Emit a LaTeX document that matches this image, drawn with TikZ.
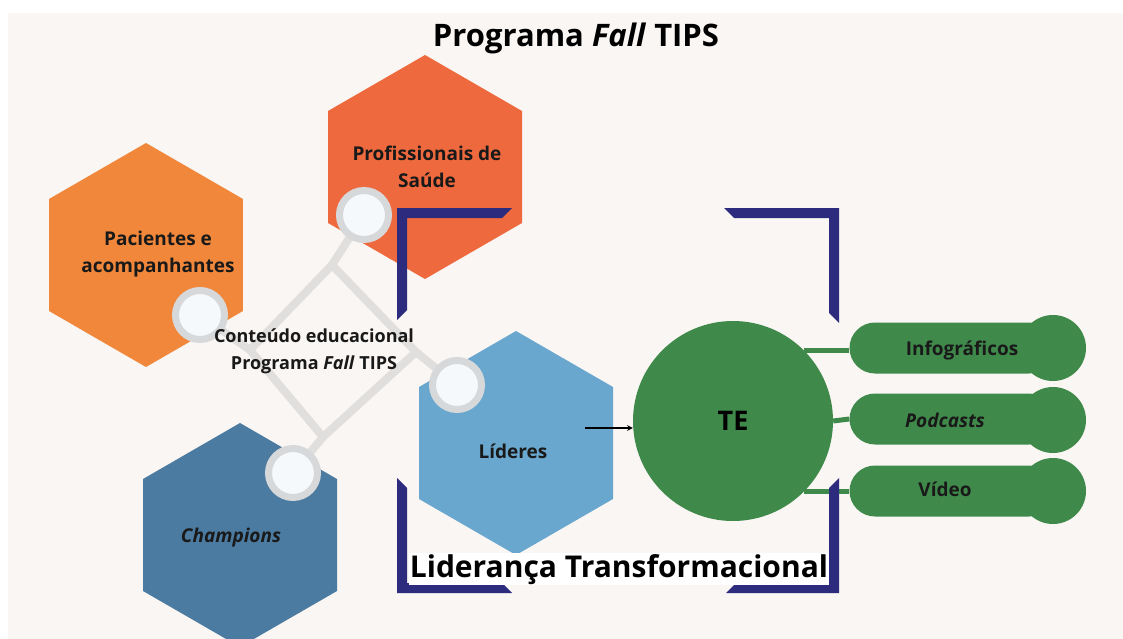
\documentclass[tikz,border=0pt]{standalone}
\usepackage{fontspec}
\setmainfont{Open Sans}
\usepackage{tikz}
\usetikzlibrary{shapes,arrows,positioning,calc}

\definecolor{bgcream}{HTML}{FAF6F3}
\definecolor{profred}{HTML}{EE6A3E}
\definecolor{pacorange}{HTML}{F0873B}
\definecolor{champblue}{HTML}{4C7BA1}
\definecolor{lidblue}{HTML}{6AA7CE}
\definecolor{tegreen}{HTML}{3F8A4B}
\definecolor{framenavy}{HTML}{2C2B7D}
\definecolor{linkgray}{HTML}{E0DFDD}
\definecolor{ringgray}{HTML}{D6D8DA}
\definecolor{ringfill}{HTML}{F6F9FC}

\begin{document}
\begin{tikzpicture}[x=1pt, y=-1pt,
    hexa/.style={regular polygon, regular polygon sides=6, shape border rotate=30, minimum size=224pt, inner sep=0pt},
    ring/.style={circle, draw=ringgray, line width=7pt, fill=ringfill, minimum size=49pt, inner sep=0pt},
    spoke/.style={draw=linkgray, line width=8pt, line join=round},
    lbl/.style={font=\fontsize{19}{27}\selectfont\bfseries, align=center, text=black!90},
    frame/.style={fill=framenavy},
    pill/.style={rectangle, rounded corners=25.5pt, fill=tegreen, minimum width=205pt, minimum height=51pt},
    bulb/.style={circle, fill=tegreen, minimum size=66pt, inner sep=0pt},
    twig/.style={draw=tegreen, line width=5pt},
    arrow/.style={->, >=stealth, line width=1.5pt}
]

\useasboundingbox (0,0) rectangle (1123,639);
\fill[white] (0,0) rectangle (1123,639);
\fill[bgcream] (8,13) rectangle (1123,639);

\node[hexa, fill=pacorange] (pac) at (146,255) {};
\node[hexa, fill=profred] (prof) at (425,167) {};
\node[hexa, fill=champblue] (champ) at (240,535) {};
\node[hexa, fill=lidblue] (lid) at (516,443) {};

\coordinate (dt) at (332,265);
\coordinate (dr) at (416,352);
\coordinate (db) at (323,437);
\coordinate (dl) at (250,350);
\coordinate (pachub) at (200,315);
\coordinate (profhub) at (364,215);
\coordinate (champhub) at (293,473);
\coordinate (lidhub) at (457,385);

\draw[spoke] (dt) -- (dr) -- (db) -- (dl) -- cycle;
\draw[spoke] (dt) -- (profhub);
\draw[spoke] (dr) -- (lidhub);
\draw[spoke] (db) -- (champhub);
\draw[spoke] (dl) -- (pachub);

\node[ring] (pacring) at (pachub) {};
\node[ring] (profring) at (profhub) {};
\node[ring] (champring) at (champhub) {};
\node[ring] (lidring) at (lidhub) {};

\node[lbl] (pactxt) at (158,254) {Pacientes e\\acompanhantes};
\node[lbl] (proftxt) at (427,167) {Profissionais de\\Saúde};
\node[lbl] (champtxt) at (231,538) {\itshape Champions};
\node[lbl] (lidtxt) at (513,451) {Líderes};
\node[lbl, font=\fontsize{18}{27}\selectfont\bfseries] (content) at (314,351) {Conteúdo educacional\\Programa \textit{Fall} TIPS};

\node[circle, fill=tegreen, minimum size=200pt, inner sep=0pt, font=\fontsize{27}{30}\selectfont\bfseries] (te) at (733,421) {TE};

\node[bulb] (infobulb) at (1053,348) {};
\node[bulb] (podbulb) at (1053,420) {};
\node[bulb] (vidbulb) at (1053,491) {};
\node[pill] (info) at (952,348) {};
\node[pill] (pod) at (952,419) {};
\node[pill] (vid) at (952,491) {};
\node[lbl] (infotxt) at (962,351) {Infográficos};
\node[lbl] (podtxt) at (945,420) {\itshape Podcasts};
\node[lbl] (vidtxt) at (945,489) {Vídeo};

\draw[twig] (te.45) -- (te.45 -| info.west);
\draw[twig] (te.east) -- (pod.west);
\draw[twig] (te.-45) -- (te.-45 -| vid.west);

\fill[frame] (397,208) -- (512,208) -- (502,218) -- (407,218) -- (407,310) -- (397,320) -- cycle;
\fill[frame] (839,208) -- (724,208) -- (734,218) -- (829,218) -- (829,313) -- (839,323) -- cycle;
\fill[frame] (839,593) -- (726,593) -- (736,583) -- (829,583) -- (829,488) -- (839,478) -- cycle;
\fill[frame] (397,593) -- (512,593) -- (502,583) -- (407,583) -- (407,488) -- (397,478) -- cycle;

\coordinate (arrtail) at (585,428);
\draw[arrow] (arrtail) -- (arrtail -| te.west);

\node[font=\fontsize{30}{36}\selectfont\bfseries, fill=white, inner sep=1pt, anchor=base] (lt) at (619,577) {Liderança Transformacional};
\node[font=\fontsize{31}{36}\selectfont\bfseries, anchor=base] (title) at (576,47) {Programa \textit{Fall} TIPS};

\end{tikzpicture}
\end{document}
